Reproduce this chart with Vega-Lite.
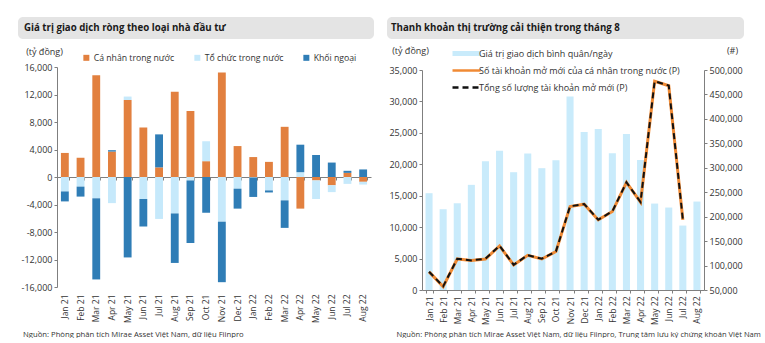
{
  "$schema": "https://vega.github.io/schema/vega-lite/v6.json",
  "background": "white",
  "padding": {"left": 18, "top": 17, "right": 0, "bottom": 0},
  "config": {
    "font": "Open Sans",
    "view": {"stroke": null},
    "axis": {"labelColor": "#333333", "titleColor": "#333333", "domainColor": "#7f7f7f", "tickColor": "#7f7f7f", "grid": false, "labelFont": "Open Sans", "titleFont": "Open Sans", "titleFontWeight": "normal"},
    "legend": {"labelFont": "Open Sans", "labelColor": "#333333"}
  },
  "resolve": {"scale": {"color": "independent"}, "legend": {"color": "independent"}},
  "datasets": {
    "net": [
      {"m": "Jan 21", "s": "Cá nhân trong nước", "o": 1, "v": 3500}, {"m": "Jan 21", "s": "Tổ chức trong nước", "o": 2, "v": -2100}, {"m": "Jan 21", "s": "Khối ngoại", "o": 3, "v": -1450},
      {"m": "Feb 21", "s": "Cá nhân trong nước", "o": 1, "v": 2800}, {"m": "Feb 21", "s": "Tổ chức trong nước", "o": 2, "v": -1400}, {"m": "Feb 21", "s": "Khối ngoại", "o": 3, "v": -1450},
      {"m": "Mar 21", "s": "Cá nhân trong nước", "o": 1, "v": 14800}, {"m": "Mar 21", "s": "Tổ chức trong nước", "o": 2, "v": -3100}, {"m": "Mar 21", "s": "Khối ngoại", "o": 3, "v": -11800},
      {"m": "Apr 21", "s": "Cá nhân trong nước", "o": 1, "v": 3700}, {"m": "Apr 21", "s": "Tổ chức trong nước", "o": 2, "v": -3800}, {"m": "Apr 21", "s": "Khối ngoại", "o": 3, "v": 200},
      {"m": "May 21", "s": "Cá nhân trong nước", "o": 1, "v": 11200}, {"m": "May 21", "s": "Tổ chức trong nước", "o": 2, "v": 500}, {"m": "May 21", "s": "Khối ngoại", "o": 3, "v": -11700},
      {"m": "Jun 21", "s": "Cá nhân trong nước", "o": 1, "v": 7200}, {"m": "Jun 21", "s": "Tổ chức trong nước", "o": 2, "v": -3200}, {"m": "Jun 21", "s": "Khối ngoại", "o": 3, "v": -4000},
      {"m": "Jul 21", "s": "Cá nhân trong nước", "o": 1, "v": 1400}, {"m": "Jul 21", "s": "Tổ chức trong nước", "o": 2, "v": -6100}, {"m": "Jul 21", "s": "Khối ngoại", "o": 3, "v": 4800},
      {"m": "Aug 21", "s": "Cá nhân trong nước", "o": 1, "v": 12400}, {"m": "Aug 21", "s": "Tổ chức trong nước", "o": 2, "v": -5300}, {"m": "Aug 21", "s": "Khối ngoại", "o": 3, "v": -7200},
      {"m": "Sep 21", "s": "Cá nhân trong nước", "o": 1, "v": 9600}, {"m": "Sep 21", "s": "Tổ chức trong nước", "o": 2, "v": -500}, {"m": "Sep 21", "s": "Khối ngoại", "o": 3, "v": -9100},
      {"m": "Oct 21", "s": "Cá nhân trong nước", "o": 1, "v": 2300}, {"m": "Oct 21", "s": "Tổ chức trong nước", "o": 2, "v": 2900}, {"m": "Oct 21", "s": "Khối ngoại", "o": 3, "v": -5200},
      {"m": "Nov 21", "s": "Cá nhân trong nước", "o": 1, "v": 15200}, {"m": "Nov 21", "s": "Tổ chức trong nước", "o": 2, "v": -6500}, {"m": "Nov 21", "s": "Khối ngoại", "o": 3, "v": -8800},
      {"m": "Dec 21", "s": "Cá nhân trong nước", "o": 1, "v": 4500}, {"m": "Dec 21", "s": "Tổ chức trong nước", "o": 2, "v": -1700}, {"m": "Dec 21", "s": "Khối ngoại", "o": 3, "v": -2900},
      {"m": "Jan 22", "s": "Cá nhân trong nước", "o": 1, "v": 2900}, {"m": "Jan 22", "s": "Tổ chức trong nước", "o": 2, "v": -100}, {"m": "Jan 22", "s": "Khối ngoại", "o": 3, "v": -2800},
      {"m": "Feb 22", "s": "Cá nhân trong nước", "o": 1, "v": 2200}, {"m": "Feb 22", "s": "Tổ chức trong nước", "o": 2, "v": -1950}, {"m": "Feb 22", "s": "Khối ngoại", "o": 3, "v": -300},
      {"m": "Mar 22", "s": "Cá nhân trong nước", "o": 1, "v": 7300}, {"m": "Mar 22", "s": "Tổ chức trong nước", "o": 2, "v": -3400}, {"m": "Mar 22", "s": "Khối ngoại", "o": 3, "v": -4000},
      {"m": "Apr 22", "s": "Cá nhân trong nước", "o": 1, "v": -4600}, {"m": "Apr 22", "s": "Tổ chức trong nước", "o": 2, "v": 700}, {"m": "Apr 22", "s": "Khối ngoại", "o": 3, "v": 4000},
      {"m": "May 22", "s": "Cá nhân trong nước", "o": 1, "v": -500}, {"m": "May 22", "s": "Tổ chức trong nước", "o": 2, "v": -2700}, {"m": "May 22", "s": "Khối ngoại", "o": 3, "v": 3200},
      {"m": "Jun 22", "s": "Cá nhân trong nước", "o": 1, "v": -1200}, {"m": "Jun 22", "s": "Tổ chức trong nước", "o": 2, "v": -1000}, {"m": "Jun 22", "s": "Khối ngoại", "o": 3, "v": 2100},
      {"m": "Jul 22", "s": "Cá nhân trong nước", "o": 1, "v": 600}, {"m": "Jul 22", "s": "Tổ chức trong nước", "o": 2, "v": -1000}, {"m": "Jul 22", "s": "Khối ngoại", "o": 3, "v": 300},
      {"m": "Aug 22", "s": "Cá nhân trong nước", "o": 1, "v": -700}, {"m": "Aug 22", "s": "Tổ chức trong nước", "o": 2, "v": -400}, {"m": "Aug 22", "s": "Khối ngoại", "o": 3, "v": 1100}
    ],
    "liq": [
      {"m": "Jan 21", "v": 15400, "n1": 87000, "n2": 87400},
      {"m": "Feb 21", "v": 12850, "n1": 57000, "n2": 57400},
      {"m": "Mar 21", "v": 13800, "n1": 113500, "n2": 113900},
      {"m": "Apr 21", "v": 16730, "n1": 110200, "n2": 110600},
      {"m": "May 21", "v": 20500, "n1": 113500, "n2": 113900},
      {"m": "Jun 21", "v": 22140, "n1": 140100, "n2": 140500},
      {"m": "Jul 21", "v": 18740, "n1": 101200, "n2": 101600},
      {"m": "Aug 21", "v": 21720, "n1": 121000, "n2": 121400},
      {"m": "Sep 21", "v": 19380, "n1": 113500, "n2": 113900},
      {"m": "Oct 21", "v": 20660, "n1": 128600, "n2": 129000},
      {"m": "Nov 21", "v": 30800, "n1": 220800, "n2": 221200},
      {"m": "Dec 21", "v": 25120, "n1": 225500, "n2": 225900},
      {"m": "Jan 22", "v": 25600, "n1": 193400, "n2": 193800},
      {"m": "Feb 22", "v": 21770, "n1": 210500, "n2": 210900},
      {"m": "Mar 22", "v": 24800, "n1": 269900, "n2": 270300},
      {"m": "Apr 22", "v": 20700, "n1": 229600, "n2": 230000},
      {"m": "May 22", "v": 13750, "n1": 476800, "n2": 477200},
      {"m": "Jun 22", "v": 13120, "n1": 467800, "n2": 468200},
      {"m": "Jul 22", "v": 10250, "n1": 193400, "n2": 193800},
      {"m": "Aug 22", "v": 14070, "n1": null, "n2": null}
    ]
  },
  "spacing": 9,
  "hconcat": [
    {
      "spacing": 8,
      "vconcat": [
        {
          "width": 356, "height": 22,
          "view": {"fill": "#e4e4e4", "cornerRadius": 5, "stroke": null},
          "data": {"values": [{"t": "Giá trị giao dịch ròng theo loại nhà đầu tư"}]},
          "mark": {"type": "text", "align": "left", "baseline": "middle", "dx": 6, "fontWeight": "bold", "fontSize": 9.7, "color": "#1a1a1a"},
          "encoding": {
            "text": {"field": "t"},
            "x": {"datum": 0, "type": "quantitative", "scale": {"domain": [0, 1]}, "axis": null}
          }
        },
        {
          "width": 353, "height": 220,
          "data": {"name": "net"},
          "resolve": {"axis": {"x": "independent"}},
          "layer": [
            {
              "mark": {"type": "bar"},
              "encoding": {
                "x": {"field": "m", "type": "ordinal", "sort": null,
                  "scale": {"range": [39, 353], "paddingInner": 0.5, "paddingOuter": 0.25},
                  "axis": {"orient": "bottom", "domain": false, "ticks": false, "labelAngle": -90, "labelPadding": 7, "labelFontSize": 8.5,
                    "title": "Nguồn: Phòng phân tích Mirae Asset Việt Nam, dữ liệu Fiinpro",
                    "titleX": 4.5, "titleY": 47, "titleAlign": "left", "titleBaseline": "middle", "titleFontSize": 7.7}},
                "y": {"field": "v", "type": "quantitative", "stack": "zero",
                  "scale": {"domain": [-16000, 16000], "nice": false},
                  "axis": {"values": [-16000, -12000, -8000, -4000, 0, 4000, 8000, 12000, 16000], "labelExpr": "replace(format(datum.value, ',.0f'), '−', '-')", "labelOverlap": false, "offset": -39, "tickSize": 3, "labelFontSize": 9, "labelPadding": 2,
                    "title": "(tỷ đồng)", "titleAngle": 0, "titleX": -13, "titleY": -16, "titleAlign": "center", "titleBaseline": "middle", "titleFontSize": 9}},
                "color": {"field": "s", "type": "nominal",
                  "scale": {"domain": ["Cá nhân trong nước", "Tổ chức trong nước", "Khối ngoại"], "range": ["#e2803f", "#c6e9fb", "#2f7db6"]},
                  "legend": {"orient": "none", "legendX": 64, "legendY": 36, "direction": "horizontal", "title": null, "symbolType": "square", "symbolSize": 36, "labelFontSize": 8.7, "labelOffset": 3, "columnPadding": 18, "padding": 0}},
                "order": {"field": "o", "type": "quantitative"}
              }
            },
            {
              "mark": {"type": "point", "opacity": 0},
              "encoding": {
                "x": {"field": "m", "type": "ordinal", "sort": null,
                  "axis": {"orient": "bottom", "offset": -110, "labels": false, "domain": true, "ticks": true, "tickBand": "extent", "tickSize": 3, "title": null}}
              }
            }
          ]
        }
      ]
    },
    {
      "spacing": 7,
      "vconcat": [
        {
          "width": 357, "height": 22,
          "view": {"fill": "#e4e4e4", "cornerRadius": 5, "stroke": null},
          "data": {"values": [{"t": "Thanh khoản thị trường cải thiện trong tháng 8"}]},
          "mark": {"type": "text", "align": "left", "baseline": "middle", "dx": 4, "fontWeight": "bold", "fontSize": 9.7, "color": "#1a1a1a"},
          "encoding": {
            "text": {"field": "t"},
            "x": {"datum": 0, "type": "quantitative", "scale": {"domain": [0, 1]}, "axis": null}
          }
        },
        {
          "width": 317, "height": 220,
          "data": {"name": "liq"},
          "resolve": {"scale": {"y": "independent"}},
          "layer": [
            {
              "mark": {"type": "bar"},
              "encoding": {
                "x": {"field": "m", "type": "ordinal", "sort": null,
                  "scale": {"range": [35, 317], "paddingInner": 0.5, "paddingOuter": 0.25},
                  "axis": {"orient": "bottom", "domain": true, "ticks": true, "tickBand": "extent", "tickSize": 3, "labelAngle": -90, "labelPadding": 3, "labelFontSize": 8.5,
                    "title": "Nguồn: Phòng phân tích Mirae Asset Việt Nam, dữ liệu Fiinpro, Trung tâm lưu ký chứng khoán Việt Nam",
                    "titleX": 9, "titleY": 44, "titleAlign": "left", "titleBaseline": "middle", "titleFontSize": 7.6}},
                "y": {"field": "v", "type": "quantitative",
                  "scale": {"domain": [0, 35000], "nice": false},
                  "axis": {"orient": "left", "offset": -35, "values": [0, 5000, 10000, 15000, 20000, 25000, 30000, 35000], "format": ",.0f", "labelOverlap": false, "tickSize": 3, "labelFontSize": 9, "labelPadding": 2,
                    "title": "(tỷ đồng)", "titleAngle": 0, "titleX": -12, "titleY": -20, "titleAlign": "center", "titleBaseline": "middle", "titleFontSize": 9}},
                "color": {"datum": "Giá trị giao dịch bình quân/ngày", "type": "nominal",
                  "scale": {"domain": ["Giá trị giao dịch bình quân/ngày", "Số tài khoản mở mới của cá nhân trong nước (P)", "Tổng số lượng tài khoản mở mới (P)"], "range": ["#c9ebfb", "#f08a34", "#111111"]},
                  "legend": {"orient": "none", "legendX": 75, "legendY": 32, "title": null, "symbolType": "M-2.8,0H2.8", "symbolSize": 100, "labelOffset": 8, "rowPadding": 6, "labelFontSize": 9, "labelLimit": 300, "padding": 0,
                    "encode": {"symbols": {"update": {
                      "shape": {"signal": "datum.index === 0 ? 'M-2.8,-0.5H2.8V0.5H-2.8Z' : 'M-2.8,0H2.8'"},
                      "stroke": {"signal": "datum.index === 0 ? 'transparent' : datum.index === 1 ? '#f08a34' : '#111111'"},
                      "fill": {"signal": "datum.index === 0 ? '#c9ebfb' : 'transparent'"},
                      "opacity": {"value": 1},
                      "strokeWidth": {"signal": "datum.index === 0 ? 0 : 2.5"},
                      "strokeDash": {"signal": "datum.index === 2 ? [6, 4] : []"}
                    }}}}}
              }
            },
            {
              "layer": [
                {
                  "mark": {"type": "line", "strokeWidth": 3},
                  "encoding": {
                    "x": {"field": "m", "type": "ordinal", "sort": null},
                    "y": {"field": "n1", "type": "quantitative",
                      "scale": {"domain": [50000, 500000], "nice": false},
                      "axis": {"orient": "right", "values": [50000, 100000, 150000, 200000, 250000, 300000, 350000, 400000, 450000, 500000], "format": ",.0f", "labelOverlap": false, "labelFontSize": 9, "labelPadding": 2, "tickSize": 3,
                        "title": "(#)", "titleAngle": 0, "titleX": 28, "titleY": -20, "titleAlign": "center", "titleBaseline": "middle", "titleFontSize": 9}},
                    "color": {"datum": "Số tài khoản mở mới của cá nhân trong nước (P)", "type": "nominal"}
                  }
                },
                {
                  "mark": {"type": "line", "strokeWidth": 2, "strokeDash": [6, 4]},
                  "encoding": {
                    "x": {"field": "m", "type": "ordinal", "sort": null},
                    "y": {"field": "n2", "type": "quantitative",
                      "axis": {"orient": "right", "values": [50000, 100000, 150000, 200000, 250000, 300000, 350000, 400000, 450000, 500000], "format": ",.0f", "labelOverlap": false, "labelFontSize": 9, "labelPadding": 2, "tickSize": 3,
                        "title": "(#)", "titleAngle": 0, "titleX": 28, "titleY": -20, "titleAlign": "center", "titleBaseline": "middle", "titleFontSize": 9}},
                    "color": {"datum": "Tổng số lượng tài khoản mở mới (P)", "type": "nominal"}
                  }
                }
              ]
            }
          ]
        }
      ]
    }
  ]
}
